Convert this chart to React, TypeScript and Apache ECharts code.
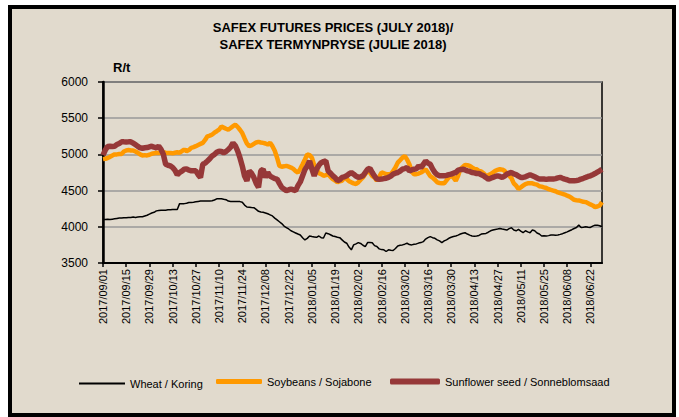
import React, { useEffect, useRef } from "react";
import * as echarts from "echarts";

const START_DATE = "2017-09-01";
const POINT_COUNT = 216;

const tickLabels = [
  "2017/09/01", "2017/09/15", "2017/09/29", "2017/10/13", "2017/10/27", "2017/11/10",
  "2017/11/24", "2017/12/08", "2017/12/22", "2018/01/05", "2018/01/19", "2018/02/02",
  "2018/02/16", "2018/03/02", "2018/03/16", "2018/03/30", "2018/04/13", "2018/04/27",
  "2018/05/11", "2018/05/25", "2018/06/08", "2018/06/22",
];

const wheat = [
  4100, 4100, 4105, 4100, 4105, 4110, 4115, 4120, 4120, 4125, 4125, 4130, 4130,
  4135, 4130, 4135, 4140, 4140, 4150, 4160, 4175, 4190,
  4200, 4220, 4225, 4230, 4230, 4230, 4235, 4235, 4240, 4240, 4240,
  4320, 4320, 4320, 4325, 4335,
  4336, 4340, 4345, 4350, 4355, 4355, 4355, 4355, 4355, 4360, 4370,
  4386, 4386, 4386, 4380, 4375,
  4355, 4350, 4350, 4350, 4350, 4348, 4340,
  4300, 4273, 4270, 4265, 4264, 4240,
  4214, 4205, 4200, 4191,
  4180, 4165, 4150, 4120, 4095, 4070, 4045,
  4010, 3990, 3970, 3945, 3930, 3915, 3900, 3886, 3850,
  3818, 3840, 3873, 3865, 3860, 3855, 3873, 3850, 3845,
  3914, 3905, 3890, 3873, 3865, 3855, 3850, 3820,
  3790, 3773, 3720, 3682,
  3750, 3765, 3782, 3770, 3745, 3727, 3782, 3782,
  3780, 3740, 3727, 3695, 3685, 3682, 3659, 3682,
  3675, 3672, 3700, 3736, 3745, 3750, 3760, 3773,
  3755, 3750, 3760, 3764, 3775, 3782, 3795, 3830,
  3850, 3864, 3850,
  3841, 3820, 3805, 3782, 3805, 3820, 3841, 3855,
  3865, 3873, 3885, 3900, 3910, 3918, 3900, 3885,
  3873, 3870, 3873, 3880, 3900, 3905, 3909, 3925,
  3945, 3955, 3964, 3970, 3977, 3970, 3964, 3955,
  3975, 3986, 3955, 3945,
  3964, 3940, 3918, 3945, 3930, 3918, 3955, 3945,
  3915, 3900, 3873, 3875, 3873, 3878, 3886, 3886,
  3885, 3886, 3895, 3905, 3918, 3930, 3945, 3960,
  3977, 3990, 4023, 3991, 3995, 4000, 3995, 3991,
  4010, 4023, 4023, 4015, 4000,
];

const soybeans = [
  4935, 4940, 4950, 4965, 4985, 5000, 5000, 5005, 5005,
  5040, 5055, 5060, 5055, 5055, 5040, 5023, 5000, 4986,
  4990, 4986, 4995, 5009, 5015, 5023, 5020, 5023, 5030,
  5023, 5018, 5018, 5015, 5023, 5030, 5023, 5045, 5068,
  5045, 5060, 5091, 5100, 5114, 5130, 5145, 5159, 5200,
  5250, 5260, 5273, 5300, 5320, 5341, 5386, 5370, 5355,
  5341, 5364, 5390, 5409, 5380, 5341, 5295, 5220, 5150,
  5114, 5125, 5145, 5165, 5173, 5165, 5159, 5150, 5136,
  5159, 5114, 5050, 4955, 4841, 4830, 4835, 4841, 4830,
  4818, 4800, 4770, 4750, 4800, 4864, 4930, 5000, 4990,
  4955, 4850, 4795, 4740, 4727, 4705, 4715, 4727, 4690,
  4659, 4640, 4614, 4630, 4636, 4682, 4660, 4630, 4614,
  4600, 4591, 4614, 4650, 4682, 4730, 4773, 4750, 4700,
  4682, 4636, 4690, 4750, 4740, 4727, 4727, 4727, 4770,
  4818, 4886, 4920, 4955, 4977, 4930, 4864, 4760, 4727,
  4727, 4735, 4750, 4770, 4795, 4750, 4700, 4680, 4650,
  4614, 4605, 4600, 4600, 4640, 4682, 4705, 4680, 4636,
  4705, 4800, 4827, 4855, 4850, 4841, 4820, 4800, 4795,
  4770, 4764, 4740, 4705, 4715, 4727, 4750, 4773, 4785,
  4795, 4790, 4773, 4740, 4705, 4670, 4600, 4568,
  4523, 4545, 4568, 4590, 4600, 4600, 4600, 4590, 4582,
  4560, 4555, 4545, 4536, 4520, 4509, 4500, 4491, 4475,
  4464, 4455, 4445, 4430, 4418, 4395, 4373, 4368, 4364,
  4355, 4345, 4341, 4325, 4309, 4295, 4273, 4280, 4295, 4341,
];

const sunflower = [
  4990, 5060, 5110, 5114, 5110, 5114, 5136, 5150, 5173,
  5173, 5170, 5173, 5173, 5155, 5136, 5110, 5091, 5085,
  5091, 5095, 5105, 5114, 5100, 5091, 5114, 5070, 5000,
  4864, 4850, 4841, 4820, 4782, 4718, 4750, 4770, 4795,
  4800, 4782, 4775, 4773, 4773, 4720, 4682, 4864, 4880,
  4909, 4940, 4977, 5000, 5030, 5045, 5040, 5023, 5040,
  5068, 5100, 5159, 5120, 5050, 4955, 4841, 4700, 4636,
  4773, 4740, 4682, 4600, 4545, 4773, 4795, 4682, 4750,
  4700, 4682, 4665, 4659, 4600, 4545, 4520, 4500, 4510,
  4523, 4510, 4500, 4568, 4620, 4705, 4790, 4841, 4909,
  4800, 4705, 4795, 4850, 4886, 4900, 4909, 4773, 4740,
  4705, 4680, 4636, 4650, 4682, 4690, 4705, 4730, 4750,
  4727, 4700, 4682, 4690, 4705, 4750, 4795, 4809, 4750,
  4700, 4659, 4655, 4659, 4665, 4670, 4682, 4700, 4727,
  4740, 4750, 4770, 4795, 4805, 4818, 4773, 4785, 4795,
  4800, 4841, 4818, 4860, 4909, 4880, 4864, 4800, 4750,
  4720, 4705, 4705, 4705, 4710, 4720, 4727, 4740, 4750,
  4782, 4790, 4795, 4785, 4773, 4765, 4750, 4745, 4736,
  4736, 4720, 4705, 4680, 4659, 4670, 4682, 4695, 4705,
  4695, 4682, 4700, 4727, 4740, 4750, 4730, 4720,
  4700, 4682, 4682, 4690, 4705, 4718, 4705, 4691, 4675,
  4659, 4660, 4659, 4655, 4659, 4660, 4659, 4665, 4675,
  4682, 4670, 4659, 4650, 4636, 4636, 4636, 4640, 4645,
  4660, 4670, 4682, 4695, 4705, 4720, 4736, 4755, 4773, 4795,
];

const seriesNames = ["Wheat / Koring", "Soybeans / Sojabone", "Sunflower seed / Sonneblomsaad"];

function buildCategories(): string[] {
  const out: string[] = [];
  const d = new Date(START_DATE + "T00:00:00Z");
  while (out.length < POINT_COUNT) {
    const day = d.getUTCDay();
    if (day !== 0 && day !== 6) {
      const y = d.getUTCFullYear();
      const m = String(d.getUTCMonth() + 1).padStart(2, "0");
      const dd = String(d.getUTCDate()).padStart(2, "0");
      out.push(`${y}/${m}/${dd}`);
    }
    d.setUTCDate(d.getUTCDate() + 1);
  }
  return out;
}

const FONT = "'Liberation Sans', Arial, sans-serif";

export default function App() {
  const ref = useRef<HTMLDivElement>(null);
  useEffect(() => {
    if (!ref.current) return;
    const chart = echarts.init(ref.current, null, { renderer: "svg" });
    const categories = buildCategories();
    const legendText = { fontSize: 11, fontFamily: FONT, color: "#000" };
    const option: any = {
      animation: false,
      backgroundColor: "#ffffff",
      textStyle: { fontFamily: FONT },
      graphic: [
        {
          type: "rect",
          z: -10,
          shape: { x: 10, y: 7, width: 664, height: 408 },
          style: { fill: "#e1dacd", stroke: "#000000", lineWidth: 4 },
        },
        {
          type: "text",
          x: 333,
          y: 19,
          style: {
            text: "SAFEX FUTURES PRICES (JULY 2018)/\nSAFEX TERMYNPRYSE (JULIE 2018)",
            font: `bold 13px ${FONT}`,
            fill: "#000",
            textAlign: "center",
            lineHeight: 17,
          },
        },
        {
          type: "text",
          x: 113,
          y: 61,
          style: { text: "R/t", font: `bold 13px ${FONT}`, fill: "#000" },
        },
      ],
      grid: {
        left: 103,
        top: 82,
        right: 77,
        bottom: 154,
        show: true,
        borderColor: "#000",
        borderWidth: 1.5,
        backgroundColor: "transparent",
      },
      legend: [
        {
          data: [{ name: seriesNames[0], icon: "rect", itemStyle: { color: "#000" } }],
          left: 74,
          top: 373,
          itemWidth: 46,
          itemHeight: 2,
          itemGap: 4,
          textStyle: legendText,
        },
        {
          data: [{ name: seriesNames[1], icon: "roundRect", itemStyle: { color: "#ff9900" } }],
          left: 211,
          top: 371,
          itemWidth: 46,
          itemHeight: 5,
          textStyle: legendText,
        },
        {
          data: [{ name: seriesNames[2], icon: "roundRect", itemStyle: { color: "#963838" } }],
          left: 385,
          top: 371,
          itemWidth: 50,
          itemHeight: 6,
          textStyle: legendText,
        },
      ],
      xAxis: {
        type: "category",
        data: categories,
        boundaryGap: false,
        axisLine: { lineStyle: { color: "#000", width: 2 } },
        axisTick: {
          show: true,
          length: 4,
          interval: (idx: number) => idx % 10 === 0,
          lineStyle: { color: "#000", width: 1.5 },
        },
        axisLabel: {
          interval: (idx: number) => idx % 10 === 0,
          rotate: 90,
          fontSize: 11,
          fontFamily: FONT,
          color: "#000",
          margin: 6,
          formatter: (v: string, idx: number) => (idx % 10 === 0 ? tickLabels[idx / 10] ?? v : v),
        },
        splitLine: { show: false },
      },
      yAxis: {
        type: "value",
        min: 3500,
        max: 6000,
        interval: 500,
        axisLine: { show: true, lineStyle: { color: "#000", width: 2.5 } },
        axisTick: { show: true, length: 5, lineStyle: { color: "#000", width: 1.5 } },
        axisLabel: {
          fontSize: 12,
          fontFamily: FONT,
          color: "#000",
          margin: 15,
          formatter: (v: number) => String(v),
        },
        splitLine: { show: true, lineStyle: { color: "#999999", width: 1.5 } },
      },
      series: [
        {
          name: seriesNames[0],
          type: "line",
          data: wheat,
          showSymbol: false,
          symbol: "none",
          color: "#000000",
          lineStyle: { color: "#000000", width: 1.5 },
          z: 3,
        },
        {
          name: seriesNames[1],
          type: "line",
          data: soybeans,
          showSymbol: false,
          symbol: "none",
          color: "#ff9900",
          lineStyle: { color: "#ff9900", width: 4.5 },
          z: 4,
        },
        {
          name: seriesNames[2],
          type: "line",
          data: sunflower,
          showSymbol: false,
          symbol: "none",
          color: "#963838",
          lineStyle: { color: "#963838", width: 5.5 },
          z: 5,
        },
      ],
    };
    chart.setOption(option);
    return () => chart.dispose();
  }, []);
  return (
    <div
      ref={ref}
      style={{ position: "absolute", left: 0, top: 0, width: 679, height: 417 }}
    />
  );
}
